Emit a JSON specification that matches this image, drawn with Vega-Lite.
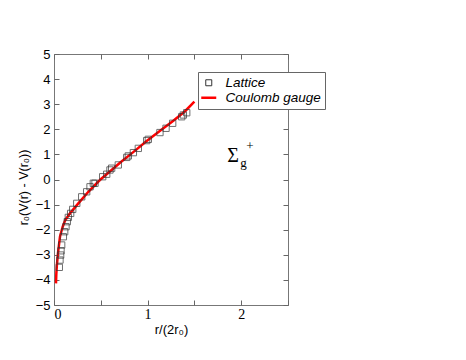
{
  "$schema": "https://vega.github.io/schema/vega-lite/v6.json",
  "autosize": {"type": "none"},
  "width": 234,
  "height": 251,
  "padding": {"left": 54, "top": 54, "right": 178, "bottom": 55},
  "background": "white",
  "config": {
    "view": {"stroke": "#777", "strokeWidth": 1},
    "axis": {"domain": false, "tickColor": "#666", "tickWidth": 1, "ticks": true, "tickSize": 5, "offset": -5, "grid": false, "labelColor": "black", "titleColor": "black", "titleFontWeight": "normal", "labelFont": "Liberation Sans", "titleFont": "Liberation Sans"}
  },
  "datasets": {
    "lattice": [
      {"x": 0.057, "y": -3.5, "series": "Lattice"},
      {"x": 0.064, "y": -3.21, "series": "Lattice"},
      {"x": 0.071, "y": -3.01, "series": "Lattice"},
      {"x": 0.075, "y": -2.84, "series": "Lattice"},
      {"x": 0.082, "y": -2.61, "series": "Lattice"},
      {"x": 0.1, "y": -2.28, "series": "Lattice"},
      {"x": 0.114, "y": -2.08, "series": "Lattice"},
      {"x": 0.128, "y": -1.88, "series": "Lattice"},
      {"x": 0.142, "y": -1.68, "series": "Lattice"},
      {"x": 0.153, "y": -1.51, "series": "Lattice"},
      {"x": 0.178, "y": -1.35, "series": "Lattice"},
      {"x": 0.2, "y": -1.19, "series": "Lattice"},
      {"x": 0.243, "y": -0.95, "series": "Lattice"},
      {"x": 0.296, "y": -0.69, "series": "Lattice"},
      {"x": 0.349, "y": -0.49, "series": "Lattice"},
      {"x": 0.385, "y": -0.29, "series": "Lattice"},
      {"x": 0.42, "y": -0.15, "series": "Lattice"},
      {"x": 0.438, "y": -0.15, "series": "Lattice"},
      {"x": 0.52, "y": 0.11, "series": "Lattice"},
      {"x": 0.563, "y": 0.21, "series": "Lattice"},
      {"x": 0.598, "y": 0.38, "series": "Lattice"},
      {"x": 0.616, "y": 0.45, "series": "Lattice"},
      {"x": 0.687, "y": 0.58, "series": "Lattice"},
      {"x": 0.777, "y": 0.88, "series": "Lattice"},
      {"x": 0.794, "y": 0.94, "series": "Lattice"},
      {"x": 0.848, "y": 1.07, "series": "Lattice"},
      {"x": 0.901, "y": 1.24, "series": "Lattice"},
      {"x": 0.99, "y": 1.55, "series": "Lattice"},
      {"x": 1.008, "y": 1.6, "series": "Lattice"},
      {"x": 1.132, "y": 1.87, "series": "Lattice"},
      {"x": 1.197, "y": 2.04, "series": "Lattice"},
      {"x": 1.268, "y": 2.24, "series": "Lattice"},
      {"x": 1.364, "y": 2.5, "series": "Lattice"},
      {"x": 1.382, "y": 2.57, "series": "Lattice"},
      {"x": 1.418, "y": 2.66, "series": "Lattice"}
    ],
    "coulomb": [
      {"x": 0.021, "y": -4.14, "series": "Coulomb gauge"},
      {"x": 0.025, "y": -3.75, "series": "Coulomb gauge"},
      {"x": 0.03, "y": -3.45, "series": "Coulomb gauge"},
      {"x": 0.036, "y": -3.2, "series": "Coulomb gauge"},
      {"x": 0.045, "y": -2.85, "series": "Coulomb gauge"},
      {"x": 0.064, "y": -2.28, "series": "Coulomb gauge"},
      {"x": 0.08, "y": -2.05, "series": "Coulomb gauge"},
      {"x": 0.093, "y": -1.88, "series": "Coulomb gauge"},
      {"x": 0.12, "y": -1.62, "series": "Coulomb gauge"},
      {"x": 0.171, "y": -1.35, "series": "Coulomb gauge"},
      {"x": 0.26, "y": -0.95, "series": "Coulomb gauge"},
      {"x": 0.367, "y": -0.49, "series": "Coulomb gauge"},
      {"x": 0.49, "y": -0.02, "series": "Coulomb gauge"},
      {"x": 0.6, "y": 0.33, "series": "Coulomb gauge"},
      {"x": 0.705, "y": 0.67, "series": "Coulomb gauge"},
      {"x": 0.85, "y": 1.1, "series": "Coulomb gauge"},
      {"x": 0.99, "y": 1.53, "series": "Coulomb gauge"},
      {"x": 1.13, "y": 1.93, "series": "Coulomb gauge"},
      {"x": 1.275, "y": 2.34, "series": "Coulomb gauge"},
      {"x": 1.4, "y": 2.72, "series": "Coulomb gauge"},
      {"x": 1.5, "y": 3.1, "series": "Coulomb gauge"}
    ],
    "annot": [{"sym": "Σ", "sub": "g", "sup": "+"}]
  },
  "layer": [
    {
      "data": {"name": "coulomb"},
      "mark": {"type": "line", "strokeWidth": 2.5, "clip": true},
      "encoding": {
        "x": {"field": "x", "type": "quantitative", "scale": {"domain": [0, 2.5], "nice": false, "zero": false},
          "axis": {"orient": "top", "labels": false, "title": null, "values": [0, 0.5, 1, 1.5, 2, 2.5]}},
        "y": {"field": "y", "type": "quantitative", "scale": {"domain": [-5, 5], "nice": false, "zero": false},
          "axis": {"orient": "right", "labels": false, "title": null, "values": [-5, -4, -3, -2, -1, 0, 1, 2, 3, 4, 5]}},
        "color": {"field": "series", "type": "nominal",
          "scale": {"domain": ["Lattice", "Coulomb gauge"], "range": ["#333333", "#ff0000"]},
          "legend": {
            "orient": "none", "legendX": 144, "legendY": 18, "title": null,
            "strokeColor": "#666", "padding": 4, "fillColor": "white",
            "labelFont": "Liberation Sans", "labelFontStyle": "italic", "labelFontSize": 13.5, "labelColor": "black",
            "symbolSize": 225, "labelOffset": 10, "rowPadding": 0,
            "encode": {"symbols": {"update": {
              "shape": {"signal": "datum.value === 'Lattice' ? 'square' : 'stroke'"},
              "size": {"signal": "datum.value === 'Lattice' ? 36 : 225"},
              "strokeWidth": {"signal": "datum.value === 'Lattice' ? 1 : 2.5"},
              "fill": {"value": "transparent"},
              "stroke": {"signal": "datum.value === 'Lattice' ? '#333333' : '#ff0000'"}
            }}}
          }}
      }
    },
    {
      "data": {"name": "lattice"},
      "mark": {"type": "point", "shape": "square", "filled": false, "size": 40, "strokeWidth": 1},
      "encoding": {
        "x": {"field": "x", "type": "quantitative",
          "axis": {"orient": "bottom", "title": "r/(2r₀)", "values": [0, 0.5, 1, 1.5, 2, 2.5], "format": "~g",
            "labelExpr": "datum.value % 1 === 0 ? datum.label : ''",
            "labelFont": "Liberation Serif", "labelFontSize": 14, "labelPadding": 2,
            "titleFontSize": 13, "titlePadding": 2}},
        "y": {"field": "y", "type": "quantitative",
          "axis": {"orient": "left", "title": "r₀(V(r) - V(r₀))", "values": [-5, -4, -3, -2, -1, 0, 1, 2, 3, 4, 5],
            "labelFontSize": 13, "labelPadding": 4, "titleFontSize": 12.5, "titlePadding": 5, "titleY": 133}},
        "color": {"field": "series", "type": "nominal"}
      }
    },
    {
      "data": {"name": "annot"},
      "mark": {"type": "text", "font": "Liberation Serif", "fontSize": 20, "align": "left", "baseline": "alphabetic", "fill": "black"},
      "encoding": {"x": {"datum": 1.85, "axis": null}, "y": {"datum": 0.7, "axis": null}, "text": {"field": "sym"}}
    },
    {
      "data": {"name": "annot"},
      "mark": {"type": "text", "font": "Liberation Serif", "fontSize": 13, "align": "left", "baseline": "alphabetic", "fill": "black", "dx": 13, "dy": 5},
      "encoding": {"x": {"datum": 1.85, "axis": null}, "y": {"datum": 0.7, "axis": null}, "text": {"field": "sub"}}
    },
    {
      "data": {"name": "annot"},
      "mark": {"type": "text", "font": "Liberation Serif", "fontSize": 13, "align": "left", "baseline": "alphabetic", "fill": "black", "dx": 19, "dy": -12},
      "encoding": {"x": {"datum": 1.85, "axis": null}, "y": {"datum": 0.7, "axis": null}, "text": {"field": "sup"}}
    }
  ]
}
